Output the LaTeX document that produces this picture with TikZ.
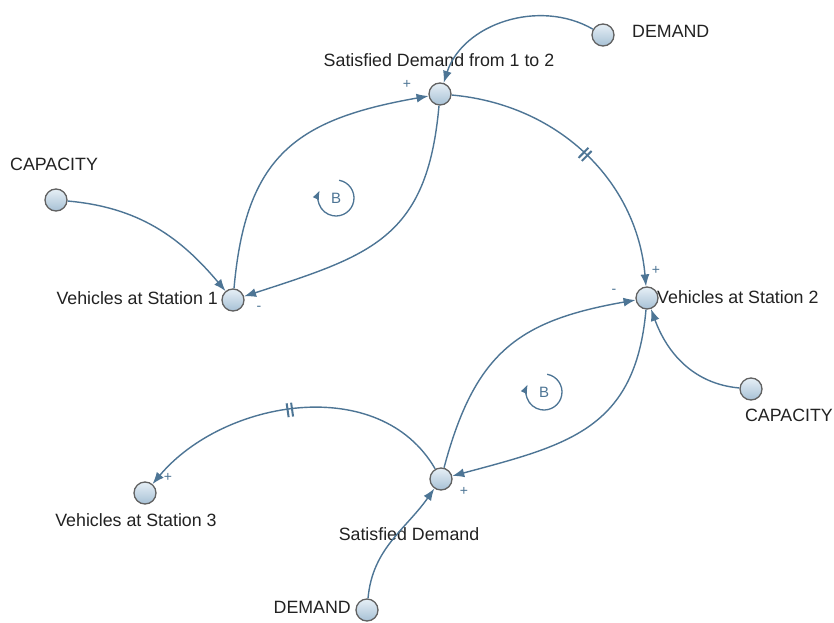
\documentclass[tikz,border=0pt]{standalone}
\usepackage{fontspec}
\setmainfont{Liberation Sans}
\usetikzlibrary{arrows.meta}
\definecolor{linkc}{HTML}{4D7595}
\definecolor{nodetop}{HTML}{E6EFF6}
\definecolor{nodebot}{HTML}{A7C1D5}
\definecolor{txt}{HTML}{222222}
\begin{document}
\begin{tikzpicture}[x=1pt,y=1pt,
  var/.style={circle, draw=black!62, line width=1.3pt, top color=nodetop, bottom color=nodebot, minimum size=22pt, inner sep=0pt},
  lab/.style={font=\fontsize{17.8}{21}\selectfont, text=txt, inner sep=0pt},
  pol/.style={font=\fontsize{14}{15}\selectfont, text=linkc, inner sep=0pt},
  lnk/.style={draw=linkc, line width=1.4pt, -{Latex[length=12pt,width=9pt]}},
  delaymark/.style={sloped, inner sep=0pt, text=linkc},
  loopsym/.style={font=\fontsize{15}{17}\selectfont, text=linkc, inner sep=0pt},
  looparc/.style={draw=linkc, line width=1.3pt, -{Latex[length=9pt,width=7pt]}}
]
\useasboundingbox (0,0) rectangle (834,622);
\fill[white] (0,0) rectangle (834,622);

% variables
\node[var] (dem1) at (603,587) {};
\node[var] (sd12) at (440,528) {};
\node[var] (cap1) at (56,422) {};
\node[var] (vs1) at (233,322) {};
\node[var] (vs2) at (647,324) {};
\node[var] (cap2) at (751,233) {};
\node[var] (sd) at (441,143) {};
\node[var] (vs3) at (145,129) {};
\node[var] (dem2) at (367,12) {};

% labels
\node[lab, anchor=west] (ldem1) at (632,591) {DEMAND};
\node[lab] (lsd12) at (439,562) {Satisfied Demand from 1 to 2};
\node[lab, anchor=west] (lcap1) at (10,458) {CAPACITY};
\node[lab, anchor=east] (lvs1) at (218,324) {Vehicles at Station 1};
\node[lab, anchor=west] (lvs2) at (657,325) {Vehicles at Station 2};
\node[lab, anchor=east] (lcap2) at (833,207) {CAPACITY};
\node[lab] (lsd) at (409,88) {Satisfied Demand};
\node[lab] (lvs3) at (136,102) {Vehicles at Station 3};
\node[lab, anchor=east] (ldem2) at (351,15) {DEMAND};

% links
\draw[lnk] (dem1) to[out=150, in=72] (sd12);
\draw[lnk] (vs1) to[out=85, in=190, looseness=1.25] (sd12);
\draw[lnk] (sd12) to[out=265, in=18, looseness=1.25] (vs1);
\draw[lnk] (cap1) to[out=-5, in=130] (vs1);
\draw[lnk] (sd12) to[out=-5, in=95] node[delaymark, pos=0.5] (d1) {\rule[-7pt]{2pt}{14pt}\hspace{2.5pt}\rule[-7pt]{2pt}{14pt}} (vs2);
\draw[lnk] (sd) to[out=75, in=190, looseness=1.2] (vs2);
\draw[lnk] (vs2) to[out=265, in=15, looseness=1.2] (sd);
\draw[lnk] (cap2) to[out=175, in=290] (vs2);
\draw[lnk] (sd) to[out=120, in=50] node[delaymark, pos=0.53] (d2) {\rule[-7pt]{2pt}{14pt}\hspace{2.5pt}\rule[-7pt]{2pt}{14pt}} (vs3);
\draw[lnk] (dem2) to[out=85, in=235] (sd);

% polarities
\node[pol] (p1) at (407,538) {+};
\node[pol] (p2) at (259,314) {-};
\node[pol] (p3) at (656,352) {+};
\node[pol] (p4) at (614,331) {-};
\node[pol] (p5) at (464,131) {+};
\node[pol] (p6) at (168,145) {+};

% loop symbols
\node[loopsym] (b1) at (336,424) {B};
\draw[looparc] (b1.center) ++(80:18) arc[start angle=80, end angle=-205, radius=18];
\node[loopsym] (b2) at (544,230) {B};
\draw[looparc] (b2.center) ++(80:18) arc[start angle=80, end angle=-205, radius=18];
\end{tikzpicture}
\end{document}
